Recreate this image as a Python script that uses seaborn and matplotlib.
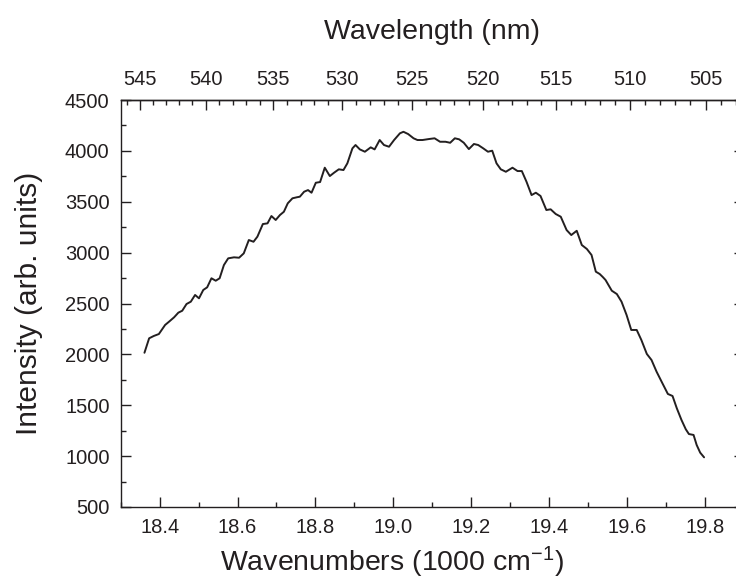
import numpy as np
import pandas as pd
import matplotlib
matplotlib.use("Agg")
import matplotlib.pyplot as plt
from matplotlib.ticker import MultipleLocator, FixedLocator
import seaborn as sns

wavenumber = [18.361, 18.373, 18.385, 18.398, 18.414, 18.424, 18.437, 18.448, 18.458, 18.469,
              18.480, 18.491, 18.501, 18.512, 18.522, 18.533, 18.544, 18.554, 18.565, 18.576,
              18.591, 18.604, 18.616, 18.629, 18.641, 18.651, 18.665, 18.677, 18.687, 18.698,
              18.709, 18.719, 18.729, 18.741, 18.752, 18.760, 18.771, 18.781, 18.790, 18.801,
              18.812, 18.824, 18.837, 18.848, 18.860, 18.872, 18.882, 18.895, 18.903, 18.914,
              18.927, 18.942, 18.952, 18.965, 18.976, 18.989, 19.002, 19.017, 19.026, 19.038,
              19.052, 19.062, 19.075, 19.092, 19.106, 19.120, 19.134, 19.146, 19.158, 19.169,
              19.181, 19.194, 19.207, 19.218, 19.231, 19.243, 19.254, 19.265, 19.276, 19.289,
              19.306, 19.319, 19.330, 19.342, 19.355, 19.366, 19.378, 19.393, 19.404, 19.417,
              19.430, 19.445, 19.457, 19.471, 19.484, 19.497, 19.509, 19.520, 19.530, 19.538,
              19.545, 19.561, 19.574, 19.586, 19.599, 19.611, 19.625, 19.637, 19.651, 19.663,
              19.676, 19.691, 19.705, 19.717, 19.728, 19.740, 19.751, 19.759, 19.771, 19.779,
              19.788, 19.798]
intensity = [2016, 2158, 2181, 2200, 2289, 2321, 2364, 2410, 2429, 2495,
             2518, 2584, 2551, 2633, 2659, 2748, 2724, 2748, 2878, 2944,
             2954, 2950, 2993, 3124, 3107, 3157, 3281, 3288, 3360, 3321,
             3370, 3402, 3485, 3534, 3544, 3550, 3599, 3615, 3589, 3687,
             3694, 3835, 3753, 3786, 3819, 3812, 3878, 4025, 4058, 4015,
             3992, 4035, 4015, 4107, 4058, 4041, 4107, 4173, 4188, 4166,
             4124, 4107, 4107, 4117, 4124, 4090, 4090, 4080, 4124, 4114,
             4080, 4018, 4068, 4058, 4025, 3992, 4002, 3878, 3819, 3795,
             3835, 3802, 3802, 3697, 3566, 3589, 3557, 3419, 3426, 3380,
             3353, 3222, 3173, 3215, 3075, 3036, 2977, 2813, 2790, 2760,
             2731, 2626, 2593, 2518, 2387, 2240, 2240, 2141, 2004, 1945,
             1830, 1716, 1611, 1591, 1470, 1355, 1264, 1217, 1208, 1109,
             1034, 988]
wavelength_ticks = [545, 540, 535, 530, 525, 520, 515, 510, 505]
wavelength_minor = list(range(500, 551))

sns.set_theme(style="ticks")
plt.rcParams['font.family'] = ['Liberation Sans', 'DejaVu Sans']
plt.rcParams['mathtext.default'] = 'regular'

ink = "#231f20"
fig = plt.figure(figsize=(7.36, 5.83), dpi=100)
ax = fig.add_axes([0.164, 0.1304, 0.8466, 0.698])
df = pd.DataFrame({"x": wavenumber, "y": intensity})
sns.lineplot(data=df, x="x", y="y", ax=ax, color=ink, linewidth=1.4)

ax.set_xlim(18.3, 19.9)
ax.set_ylim(500, 4500)
ax.xaxis.set_major_locator(MultipleLocator(0.2))
ax.xaxis.set_minor_locator(MultipleLocator(0.1))
ax.yaxis.set_major_locator(MultipleLocator(500))
ax.yaxis.set_minor_locator(MultipleLocator(250))
ax.xaxis.set_major_formatter(matplotlib.ticker.FormatStrFormatter('%.1f'))

ax.tick_params(axis='both', which='major', direction='in', length=7, width=1.0,
               labelsize=14.5, colors=ink, pad=8)
ax.tick_params(axis='both', which='minor', direction='in', length=3.7, width=1.0, colors=ink)
ax.tick_params(axis='y', which='both', left=True, right=True)
ax.tick_params(axis='x', which='both', bottom=True, top=False)
for s in ax.spines.values():
    s.set_linewidth(1.0)
    s.set_color(ink)
    s.set_visible(True)

ax.set_xlabel("Wavenumbers (1000 cm$^{-1}$)", fontsize=20.5, color=ink)
ax.xaxis.set_label_coords(0.436, -0.093)
ax.set_ylabel("Intensity (arb. units)", fontsize=21.5, color=ink, labelpad=16)


def inv(x):
    x = np.asarray(x, dtype=float)
    with np.errstate(divide='ignore', invalid='ignore'):
        return 10000.0 / x


sec = ax.secondary_xaxis('top', functions=(inv, inv))
sec.xaxis.set_major_locator(FixedLocator(wavelength_ticks))
sec.xaxis.set_minor_locator(FixedLocator(wavelength_minor))
sec.tick_params(axis='x', which='major', direction='in', length=7, width=1.0,
                labelsize=14.5, colors=ink, pad=8)
sec.tick_params(axis='x', which='minor', direction='in', length=3.7, width=1.0, colors=ink)
sec.spines['top'].set_linewidth(1.0)
sec.spines['top'].set_color(ink)
sec.set_xlabel("Wavelength (nm)", fontsize=20.5, color=ink, labelpad=22)

fig.savefig("out.png", dpi=100)
